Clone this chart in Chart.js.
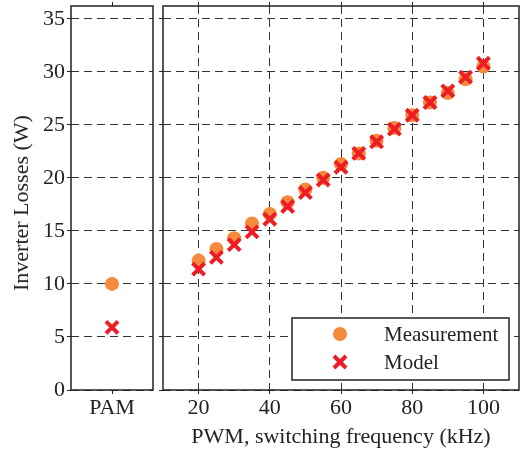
<!DOCTYPE html>
<html>
<head>
<meta charset="utf-8">
<script src="https://cdn.jsdelivr.net/npm/chart.js@4/dist/chart.umd.min.js"></script>
<style>
  body { margin: 0; background: #fff; }
  #wrap { position: relative; width: 522px; height: 450px; }
  canvas { position: absolute; top: 0; }
  #pam { left: 0; }
  #pwm { left: 155px; }
  #ytitle {
    position: absolute; left: 21px; top: 203px;
    transform: translate(-50%, -50%) rotate(-90deg);
    font: 22px "Liberation Serif", serif; color: #222; white-space: nowrap;
  }
</style>
</head>
<body>
<div id="wrap">
  <canvas id="pam" width="160" height="450"></canvas>
  <canvas id="pwm" width="367" height="450"></canvas>
  <div id="ytitle">Inverter Losses (W)</div>
</div>
<script>
// values
const pamLabels = ["PAM"];
const pamMeasurement = [10.0];
const pamModel = [5.9];

const pwmFreq = [20, 25, 30, 35, 40, 45, 50, 55, 60, 65, 70, 75, 80, 85, 90, 95, 100];
const pwmMeasurement = [12.2, 13.3, 14.3, 15.7, 16.6, 17.7, 18.9, 20.0, 21.3, 22.3, 23.5, 24.7, 25.9, 27.1, 28.0, 29.3, 30.5];
const pwmModel = [11.4, 12.5, 13.7, 14.9, 16.1, 17.3, 18.6, 19.8, 21.0, 22.3, 23.4, 24.6, 25.9, 27.1, 28.2, 29.5, 30.8];
const freqTicks = [20, 40, 60, 80, 100];
const lossTicks = [0, 5, 10, 15, 20, 25, 30, 35];

const orange = "#f58a3c";
const red = "#ee1c24";
const ink = "#222";
const font = { family: "Liberation Serif", size: 22 };
const dash = [8, 5];

const circleStyle = { pointStyle: "circle", pointRadius: 7, pointBackgroundColor: orange, pointBorderColor: orange, pointBorderWidth: 0 };
const crossStyle = { pointStyle: "crossRot", pointRadius: 8.5, pointBorderColor: red, pointBorderWidth: 4 };

// box round each plot
const frame = {
  id: "frame",
  afterDraw(chart) {
    const { ctx, chartArea: a } = chart;
    ctx.save();
    ctx.strokeStyle = ink;
    ctx.lineWidth = 1.5;
    ctx.strokeRect(a.left, a.top, a.right - a.left, a.bottom - a.top);
    ctx.restore();
  }
};

const fixSize = (w, h) => (s) => {
  if (w != null) s.width = w;
  if (h != null) s.height = h;
  // labels never reach the plot edges, so no extra room is needed
  s.paddingTop = 0;
  s.paddingBottom = 0;
};

const yScale = (showLabels, width) => ({
  min: 0, max: 36.2,
  afterBuildTicks: (s) => { s.ticks = lossTicks.map(v => ({ value: v })); },
  ticks: { display: showLabels, color: ink, font: font, padding: 2 },
  grid: { color: "#333", lineWidth: 1, tickLength: 4, tickColor: ink, tickWidth: 1 },
  border: { display: false, dash: dash },
  afterFit: fixSize(width, null)
});

new Chart(document.getElementById("pam"), {
  type: "scatter",
  data: {
    labels: pamLabels,
    datasets: [
      { label: "Model", data: pamModel, order: 0, ...crossStyle },
      { label: "Measurement", data: pamMeasurement, order: 1, ...circleStyle }
    ]
  },
  options: {
    responsive: false, animation: false,
    layout: { autoPadding: false, padding: { right: 7 } },
    plugins: { legend: { display: false }, tooltip: { enabled: false } },
    scales: {
      x: {
        type: "category", offset: true,
        ticks: { color: ink, font: font, padding: 1 },
        grid: { offset: false, drawOnChartArea: false, tickLength: 4, tickColor: ink },
        border: { display: false },
        afterFit: fixSize(null, 60)
      },
      xTop: {
        type: "category", position: "top", offset: true, labels: pamLabels,
        ticks: { display: false },
        grid: { offset: false, drawOnChartArea: false, tickLength: 4, tickColor: ink },
        border: { display: false },
        afterFit: fixSize(null, 6)
      },
      y: yScale(true, 71)
    }
  },
  plugins: [frame]
});

// legend box inside the PWM plot, lower right
const boxLegend = {
  id: "boxLegend",
  afterDraw(chart) {
    const { ctx, chartArea: a } = chart;
    const w = 217, h = 62;
    const x0 = a.right - 10 - w, y0 = a.bottom - 10 - h;
    ctx.save();
    ctx.fillStyle = "#fff";
    ctx.fillRect(x0, y0, w, h);
    ctx.strokeStyle = ink;
    ctx.lineWidth = 1.5;
    ctx.strokeRect(x0, y0, w, h);

    const mx = x0 + 48;
    const r1 = y0 + 16, r2 = y0 + 44;
    ctx.fillStyle = orange;
    ctx.beginPath();
    ctx.arc(mx, r1, 7, 0, Math.PI * 2);
    ctx.fill();

    const d = 8.5 * Math.SQRT1_2;
    ctx.strokeStyle = red;
    ctx.lineWidth = 4;
    ctx.beginPath();
    ctx.moveTo(mx - d, r2 - d); ctx.lineTo(mx + d, r2 + d);
    ctx.moveTo(mx - d, r2 + d); ctx.lineTo(mx + d, r2 - d);
    ctx.stroke();

    ctx.fillStyle = ink;
    ctx.font = `21px "${font.family}"`;
    ctx.textBaseline = "middle";
    ctx.fillText("Measurement", x0 + 92, r1 + 1);
    ctx.fillText("Model", x0 + 92, r2 + 1);
    ctx.restore();
  }
};

new Chart(document.getElementById("pwm"), {
  type: "scatter",
  data: {
    datasets: [
      { label: "Model", data: pwmFreq.map((f, i) => ({ x: f, y: pwmModel[i] })), order: 0, ...crossStyle },
      { label: "Measurement", data: pwmFreq.map((f, i) => ({ x: f, y: pwmMeasurement[i] })), order: 1, ...circleStyle }
    ]
  },
  options: {
    responsive: false, animation: false,
    layout: { autoPadding: false, padding: { right: 3 } },
    plugins: { legend: { display: false }, tooltip: { enabled: false } },
    scales: {
      x: {
        type: "linear", min: 10, max: 110,
        afterBuildTicks: (s) => { s.ticks = freqTicks.map(v => ({ value: v })); },
        ticks: { color: ink, font: font, padding: 1 },
        grid: { color: "#333", lineWidth: 1, tickLength: 4, tickColor: ink },
        border: { display: false, dash: dash },
        title: { display: true, text: "PWM, switching frequency (kHz)", color: ink, font: font, padding: 0 },
        afterFit: fixSize(null, 60)
      },
      xTop: {
        type: "linear", position: "top", min: 10, max: 110,
        afterBuildTicks: (s) => { s.ticks = freqTicks.map(v => ({ value: v })); },
        ticks: { display: false },
        grid: { drawOnChartArea: false, tickLength: 4, tickColor: ink },
        border: { display: false },
        afterFit: fixSize(null, 6)
      },
      y: yScale(false, 8)
    }
  },
  plugins: [frame, boxLegend]
});
</script>
</body>
</html>
